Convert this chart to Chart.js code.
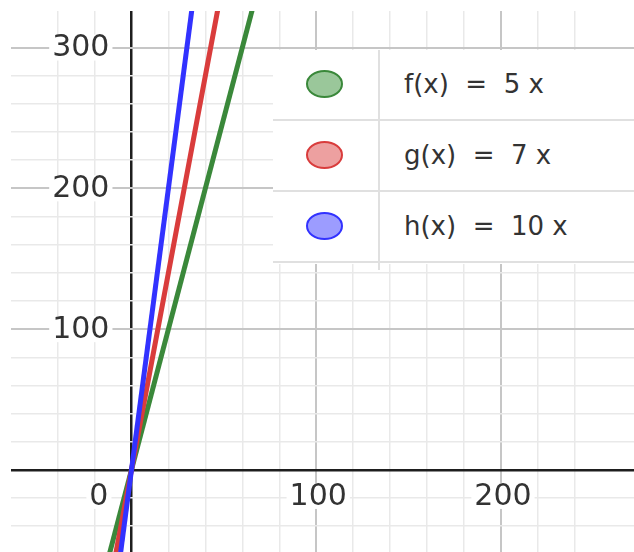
<!DOCTYPE html>
<html>
<head>
<meta charset="utf-8">
<script src="https://cdn.jsdelivr.net/npm/chart.js@4.4.1/dist/chart.umd.min.js"></script>
<style>
  html, body { margin: 0; padding: 0; background: #fff; }
  #wrap { position: relative; width: 634px; height: 552px; overflow: hidden; }
  canvas { display: block; }
  #legend { position: absolute; left: 273px; top: 50px; width: 361px; height: 220px; }
  #legend .panel { position: absolute; left: 0; top: 0; width: 361px; height: 214px; background: #fff; }
  #legend .col { position: absolute; left: 105px; top: 0; width: 2px; height: 220px; background: #e0e0e0; }
  #legend .row { position: absolute; left: 0; width: 361px; height: 71px; box-sizing: border-box; border-bottom: 2px solid #e0e0e0; }
  #legend .dot { position: absolute; left: 33px; top: 20px; width: 37px; height: 28px; box-sizing: border-box; border-radius: 50%; border: 2px solid; }
  #legend .txt { position: absolute; left: 131px; top: 0; height: 69px; line-height: 69px; font-family: "DejaVu Sans", sans-serif; font-size: 26px; color: #333; white-space: pre; }
</style>
</head>
<body>
<div id="wrap">
  <canvas id="c" width="634" height="552"></canvas>
  <div id="legend"><div class="panel"></div></div>
</div>
<script>
// Sample points for each linear function
const xValues = [-20, 80];
const fValues = [-100, 400];
const gValues = [-140, 560];
const hValues = [-200, 800];

const seriesLabels = ['f(x)  =  5 x', 'g(x)  =  7 x', 'h(x)  =  10 x'];
const lineColors = ['#3a883a', '#d93c3c', '#3232ff'];
const dotFills = ['#9ac79a', '#eda0a0', '#9c9cff'];

// Numbered ticks on each axis
const xTickLabels = [0, 100, 200];
const yTickLabels = [100, 200, 300];

const xRange = [-65.2, 272];
const yRange = [-58.3, 326];

function pts(ys) {
  return xValues.map((x, i) => ({ x: x, y: ys[i] }));
}

function gridColor(ctx) {
  const v = ctx.tick.value;
  if (Math.abs(v) < 1e-9) return '#1e1e1e';
  if (Math.abs(v % 100) < 1e-9) return '#c6c6c6';
  return '#e9e9e9';
}
function gridWidth(ctx) {
  const v = ctx.tick.value;
  if (Math.abs(v) < 1e-9) return 2.5;
  if (Math.abs(v % 100) < 1e-9) return 2;
  return 1.5;
}
function keepMultiplesOf20(scale) {
  scale.ticks = scale.ticks.filter(t => Math.abs(t.value / 20 - Math.round(t.value / 20)) < 1e-9);
}

// Axis numbers with a white backdrop, placed through the chart scales
const axisNumbers = {
  id: 'axisNumbers',
  beforeDatasetsDraw(chart) {
    const { ctx, scales: { x, y } } = chart;
    const x0 = x.getPixelForValue(0);
    const y0 = y.getPixelForValue(0);
    ctx.save();
    ctx.font = '30px "DejaVu Sans", sans-serif';
    ctx.textBaseline = 'middle';
    const put = (text, px, py, align) => {
      const w = ctx.measureText(text).width;
      let left = align === 'right' ? px - w : px - w / 2;
      ctx.fillStyle = '#fff';
      ctx.fillRect(left - 3, py - 13, w + 6, 26);
      ctx.fillStyle = '#333';
      ctx.textAlign = align;
      ctx.fillText(text, px, py + 1);
    };
    yTickLabels.forEach(v => put(String(v), x0 - 22, y.getPixelForValue(v), 'right'));
    xTickLabels.forEach(v => {
      if (v === 0) put(String(v), x0 - 23, y0 + 26, 'right');
      else put(String(v), x.getPixelForValue(v) + 2, y0 + 26, 'center');
    });
    ctx.restore();
  }
};

const datasets = [fValues, gValues, hValues].map((vals, i) => ({
  label: seriesLabels[i],
  data: pts(vals),
  borderColor: lineColors[i],
  borderWidth: 5,
  pointRadius: 0,
  fill: false,
  tension: 0,
  order: 2 - i
}));

new Chart(document.getElementById('c'), {
  type: 'line',
  data: { datasets: datasets },
  options: {
    responsive: false,
    animation: false,
    devicePixelRatio: 1,
    layout: { padding: { top: 11, left: 11, right: 0, bottom: 0 } },
    plugins: { legend: { display: false }, tooltip: { enabled: false } },
    scales: {
      x: {
        type: 'linear',
        min: xRange[0], max: xRange[1],
        ticks: { display: false, stepSize: 20 },
        border: { display: false },
        grid: { drawTicks: false, color: gridColor, lineWidth: gridWidth },
        afterBuildTicks: keepMultiplesOf20
      },
      y: {
        type: 'linear',
        min: yRange[0], max: yRange[1],
        ticks: { display: false, stepSize: 20 },
        border: { display: false },
        grid: { drawTicks: false, color: gridColor, lineWidth: gridWidth },
        afterBuildTicks: keepMultiplesOf20
      }
    }
  },
  plugins: [axisNumbers]
});

// Function list panel
const legend = document.getElementById('legend');
seriesLabels.forEach((label, i) => {
  const row = document.createElement('div');
  row.className = 'row';
  row.style.top = (i * 71) + 'px';
  const dot = document.createElement('div');
  dot.className = 'dot';
  dot.style.background = dotFills[i];
  dot.style.borderColor = lineColors[i];
  const txt = document.createElement('div');
  txt.className = 'txt';
  txt.textContent = label;
  row.appendChild(dot);
  row.appendChild(txt);
  legend.appendChild(row);
});
const col = document.createElement('div');
col.className = 'col';
legend.appendChild(col);
</script>
</body>
</html>
